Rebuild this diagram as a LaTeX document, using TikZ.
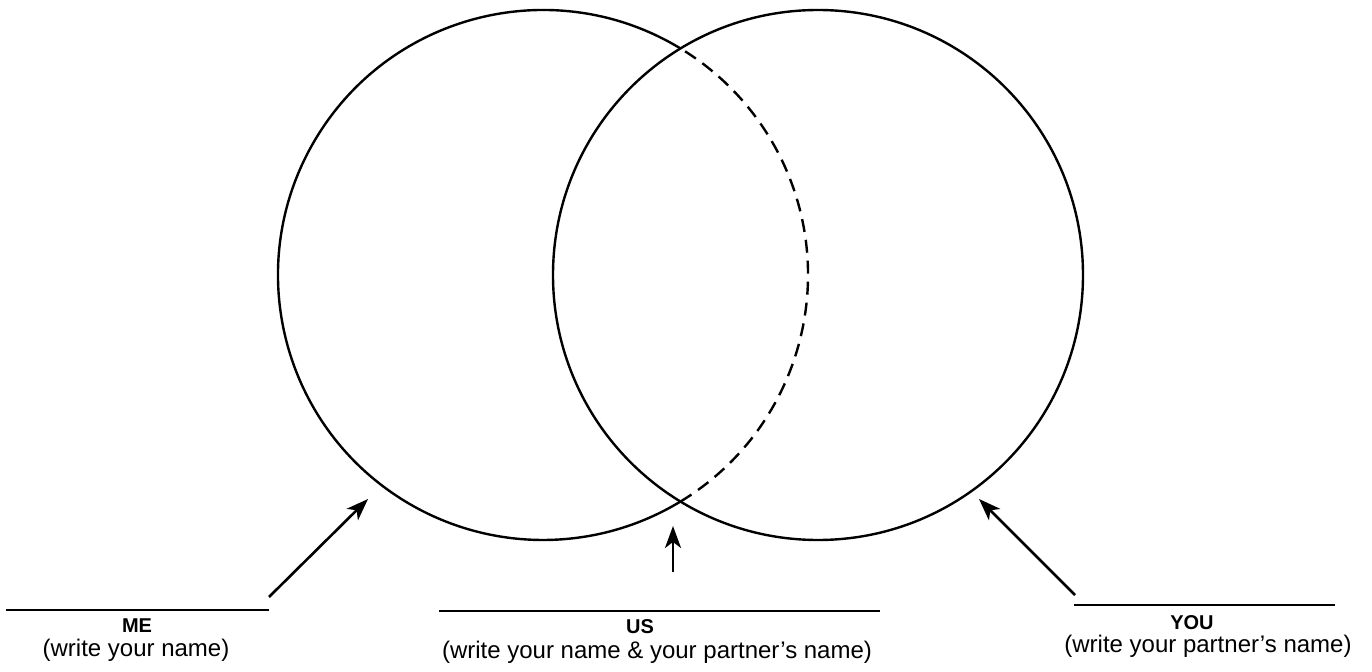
\documentclass[tikz,border=0pt]{standalone}
\usepackage{fontspec}
\setmainfont{Liberation Sans}
\usetikzlibrary{arrows.meta}
\begin{document}
\begin{tikzpicture}[x=0.5pt,y=0.5pt,
  ring/.style={line width=1.2pt},
  pointer/.style={line width=1.3pt,-{Stealth[length=11pt,width=8pt,inset=3pt]}},
  nameline/.style={line width=1.3pt},
  title/.style={font=\fontsize{10}{11}\selectfont\bfseries, inner sep=0pt},
  hint/.style={font=\fontsize{12}{14}\selectfont, inner sep=0pt}]
\useasboundingbox (0,0) rectangle (1372,671);

% circle centres
\coordinate (cl) at (543,396);
\coordinate (cr) at (818,396);

% left circle: outer arc solid, inner arc dashed
\draw[ring] (cl) ++(58.74:265) arc[start angle=58.74, end angle=301.26, radius=132.5pt];
\draw[ring, dash pattern=on 6.5pt off 4pt] (cl) ++(-58.74:265)
  arc[start angle=-58.74, end angle=58.74, radius=132.5pt];
% right circle
\draw[ring] (cr) circle[radius=132.5pt];

% name lines
\coordinate (meA) at (6,61);    \coordinate (meB) at (269,61);
\coordinate (usA) at (439,60);  \coordinate (usB) at (880,60);
\coordinate (youA) at (1074,66); \coordinate (youB) at (1335,66);
\draw[nameline] (meA) -- (meB);
\draw[nameline] (usA) -- (usB);
\draw[nameline] (youA) -- (youB);

% pointers
\coordinate (meTail) at (269,74);   \coordinate (meTip) at (368,172);
\coordinate (usTail) at (673,99);   \coordinate (usTip) at (673,145);
\coordinate (youTail) at (1075,76); \coordinate (youTip) at (979,172);
\draw[pointer] (meTail) -- (meTip);
\draw[pointer] (usTail) -- (usTip);
\draw[pointer] (youTail) -- (youTip);

% labels
\node[title] (meT) at (137,45) {ME};
\node[hint] (meH) at (136,21) {(write your name)};
\node[title] (usT) at (640,44) {US};
\node[hint] (usH) at (657,18.5) {(write your name \& your partner's name)};
\node[title] (youT) at (1192,48.5) {YOU};
\node[hint] (youH) at (1208,25) {(write your partner's name)};
\end{tikzpicture}
\end{document}
